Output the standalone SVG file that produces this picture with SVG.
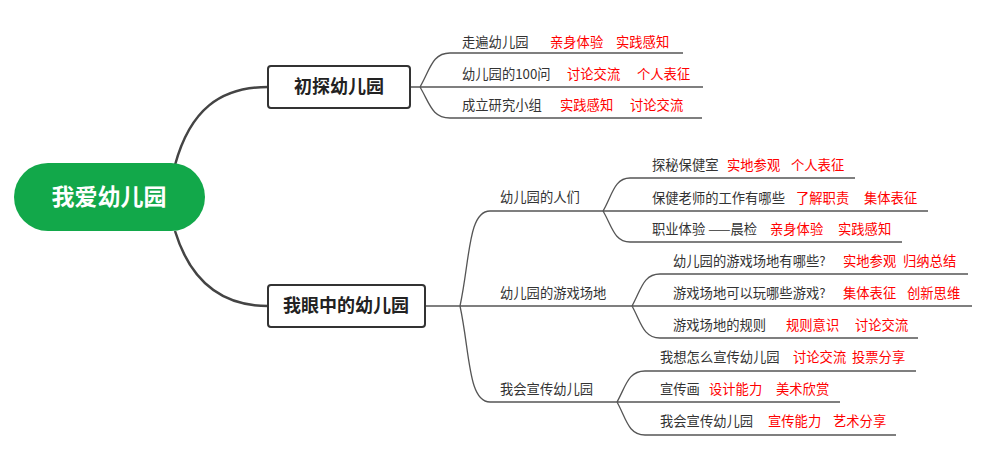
<svg xmlns="http://www.w3.org/2000/svg" width="1000" height="464" viewBox="0 0 1000 464">
<style>
text{font-family:"Noto Sans CJK SC","Liberation Sans",sans-serif;font-size:13.3px;fill:#333}
.r{fill:#f00}
.b{font-size:18px;font-weight:bold;fill:#222;text-anchor:middle}
.l{fill:none;stroke:#555;stroke-width:1.3}
.m{fill:none;stroke:#444;stroke-width:2.5}
</style>
<rect width="1000" height="464" fill="#fff"/>
<g id="connectors">
<path class="m" d="M175,165 C190,110 220,87 268,87"/>
<path class="m" d="M175,231 C190,280 220,306 268,306"/>
<path class="l" d="M410,87 H420 M420,87 C430,70 432,53 450,53 H683 M420,87 H703 M420,87 C430,104 432,118 450,118 H702"/>
<path class="l" d="M425,306 H460 M460,306 C470,260 468,211 490,211 H603 M460,306 H632 M460,306 C470,352 468,402 490,402 H617"/>
<path class="l" d="M603,211 C612,196 614,178 630,178 H855 M603,211 H928 M603,211 C612,226 614,242 630,242 H902"/>
<path class="l" d="M632,306 C641,290 643,274 660,274 H968 M632,306 H972 M632,306 C641,322 643,338 660,338 H918"/>
<path class="l" d="M617,402 C626,386 628,371 645,371 H916 M617,402 H840 M617,402 C626,418 628,435 645,435 H896"/>
</g>
<g id="root"><rect x="14" y="163" width="191" height="68" rx="34" fill="#12a84a"/><text x="109" y="205" style="font-size:23px;font-weight:bold;fill:#fff;text-anchor:middle">我爱幼儿园</text></g>
<g id="b1"><rect x="268" y="66" width="142" height="42" rx="3" fill="#fff" stroke="#333" stroke-width="2"/><text class="b" x="339" y="93">初探幼儿园</text></g>
<g id="b2"><rect x="268" y="285" width="157" height="42" rx="3" fill="#fff" stroke="#333" stroke-width="2"/><text class="b" x="346" y="312">我眼中的幼儿园</text></g>
<g id="b1items">
<text x="462" y="47">走遍幼儿园</text><text class="r" x="550" y="47">亲身体验</text><text class="r" x="616" y="47">实践感知</text>
<text x="462" y="79">幼儿园的100问</text><text class="r" x="567" y="79">讨论交流</text><text class="r" x="637" y="79">个人表征</text>
<text x="462" y="110">成立研究小组</text><text class="r" x="560" y="110">实践感知</text><text class="r" x="630" y="110">讨论交流</text>
</g>
<g id="subs">
<text x="500" y="202">幼儿园的人们</text>
<text x="500" y="298">幼儿园的游戏场地</text>
<text x="500" y="394">我会宣传幼儿园</text>
</g>
<g id="people">
<text x="652" y="170">探秘保健室</text><text class="r" x="727" y="170">实地参观</text><text class="r" x="791" y="170">个人表征</text>
<text x="652" y="203">保健老师的工作有哪些</text><text class="r" x="796" y="203">了解职责</text><text class="r" x="864" y="203">集体表征</text>
<text x="652" y="234">职业体验 ——晨检</text><text class="r" x="770" y="234">亲身体验</text><text class="r" x="838" y="234">实践感知</text>
</g>
<g id="play">
<text x="673" y="266">幼儿园的游戏场地有哪些?</text><text class="r" x="843" y="266">实地参观</text><text class="r" x="903" y="266">归纳总结</text>
<text x="673" y="298">游戏场地可以玩哪些游戏?</text><text class="r" x="843" y="298">集体表征</text><text class="r" x="907" y="298">创新思维</text>
<text x="673" y="330">游戏场地的规则</text><text class="r" x="786" y="330">规则意识</text><text class="r" x="855" y="330">讨论交流</text>
</g>
<g id="promo">
<text x="660" y="362">我想怎么宣传幼儿园</text><text class="r" x="793" y="362">讨论交流</text><text class="r" x="852" y="362">投票分享</text>
<text x="660" y="394">宣传画</text><text class="r" x="709" y="394">设计能力</text><text class="r" x="776" y="394">美术欣赏</text>
<text x="660" y="426">我会宣传幼儿园</text><text class="r" x="768" y="426">宣传能力</text><text class="r" x="833" y="426">艺术分享</text>
</g>
</svg>
